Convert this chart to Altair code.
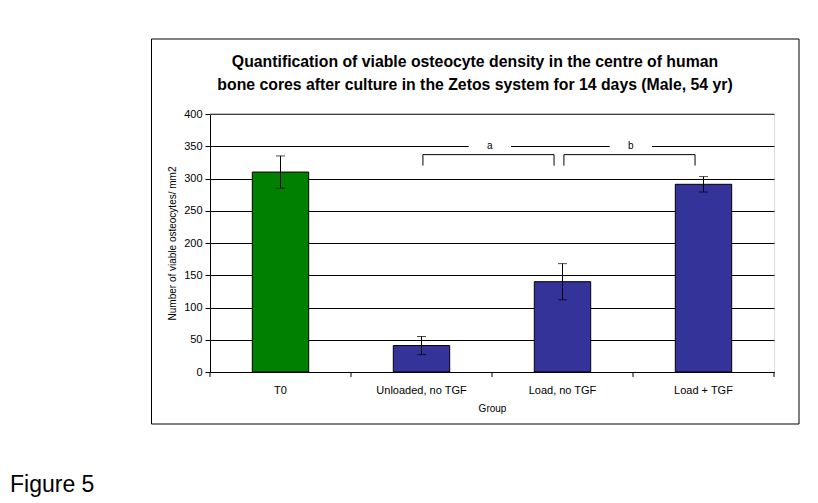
import altair as alt
import pandas as pd

# ---- data ----
groups = ["T0", "Unloaded, no TGF", "Load, no TGF", "Load + TGF"]
means = [310, 41, 140, 291]
errors = [25, 14, 28, 12]
bar_colors = ["#008000", "#333399", "#333399", "#333399"]

bracket_labels = ["a", "b"]
bracket_from = ["Unloaded, no TGF", "Load, no TGF"]
bracket_to = ["Load, no TGF", "Load + TGF"]
bracket_top = 337
bracket_bottom = 320
bracket_label_y = 350

y_ticks = [0, 50, 100, 150, 200, 250, 300, 350, 400]

title_lines = [
    "Quantification of viable osteocyte density in the centre of human",
    "bone cores after culture in the Zetos system for 14 days (Male, 54 yr)",
]
y_title = "Number of viable osteocytes/ mm2"
x_title = "Group"
figure_label = "Figure 5"

FONT = "Liberation Sans"
W, H = 564, 258

df = pd.DataFrame({
    "group": groups,
    "mean": means,
    "lo": [m - e for m, e in zip(means, errors)],
    "hi": [m + e for m, e in zip(means, errors)],
    "color": bar_colors,
})

# bracket geometry in category-index units (band centres at i + 0.5)
idx = {g: i for i, g in enumerate(groups)}
br_rows = []
for lab, a, b in zip(bracket_labels, bracket_from, bracket_to):
    x1 = idx[a] + 0.5 + 0.01
    x2 = idx[b] + 0.5 - 0.06
    br_rows.append({"label": lab, "x1": x1, "x2": x2, "xm": (x1 + x2) / 2 + 0.01,
                    "top": bracket_top, "bottom": bracket_bottom, "ly": bracket_label_y})
br = pd.DataFrame(br_rows)
# category boundaries for the x-axis tick marks
bounds = pd.DataFrame({"b": list(range(len(groups) + 1))})

yscale = alt.Scale(domain=[0, 400], nice=False)
yaxis = alt.Axis(values=y_ticks, labelFont=FONT, labelFontSize=11,
                 labelColor="black", titleFont=FONT, titleFontSize=10,
                 titleFontWeight="normal", titleColor="black", domainColor="black",
                 tickColor="black", tickSize=5, labelPadding=3, titlePadding=6,
                 grid=True, gridColor="black")

xcat = alt.X(
    "group:N", sort=groups, title=x_title,
    scale=alt.Scale(paddingInner=0.6, paddingOuter=0.3),
    axis=alt.Axis(ticks=False, labelAngle=0, labelFont=FONT, labelFontSize=11,
                  labelColor="black", titleFont=FONT, titleFontSize=10,
                  titleFontWeight="normal", titleColor="black", domainColor="black",
                  labelPadding=12, titlePadding=8, grid=False),
)

base = alt.Chart(df)
bars = base.mark_bar(stroke="black", strokeWidth=1).encode(
    x=xcat, y=alt.Y("mean:Q", title=y_title, scale=yscale, axis=yaxis),
    color=alt.Color("color:N", scale=None, legend=None),
)
err = base.mark_rule(color="black", strokeWidth=1).encode(
    x=alt.X("group:N", sort=groups),
    y=alt.Y("lo:Q", title=y_title, scale=yscale, axis=yaxis), y2="hi:Q")
cap_lo = base.mark_tick(color="black", thickness=1, size=9, orient="horizontal").encode(
    x=alt.X("group:N", sort=groups),
    y=alt.Y("lo:Q", title=y_title, scale=yscale, axis=yaxis))
cap_hi = base.mark_tick(color="black", thickness=1, size=9, orient="horizontal").encode(
    x=alt.X("group:N", sort=groups),
    y=alt.Y("hi:Q", title=y_title, scale=yscale, axis=yaxis))

cat_layer = alt.layer(bars, err, cap_lo, cap_hi)

# overlay with a quantitative x (category index units), no axis
xq = alt.Scale(domain=[0, len(groups)], nice=False, zero=False)
bb = alt.Chart(br)
gap = bb.mark_rule(color="white", strokeWidth=5).encode(
    x=alt.X("gx1:Q", scale=xq, axis=None), x2="gx2:Q",
    y=alt.Y("ly:Q", scale=yscale, axis=None),
).transform_calculate(gx1="datum.xm - 0.15", gx2="datum.xm + 0.15")
hline = bb.mark_rule(color="black", strokeWidth=1).encode(
    x=alt.X("x1:Q", scale=xq, axis=None), x2="x2:Q",
    y=alt.Y("top:Q", scale=yscale, axis=None),
)
vl = bb.mark_rule(color="black", strokeWidth=1).encode(
    x=alt.X("x1:Q", scale=xq, axis=None),
    y=alt.Y("top:Q", scale=yscale, axis=None),
    y2="bottom:Q",
)
vr = bb.mark_rule(color="black", strokeWidth=1).encode(
    x=alt.X("x2:Q", scale=xq, axis=None),
    y=alt.Y("top:Q", scale=yscale, axis=None),
    y2="bottom:Q",
)
labs = bb.mark_text(font=FONT, fontSize=10, color="black", baseline="middle").encode(
    x=alt.X("xm:Q", scale=xq, axis=None),
    y=alt.Y("ly:Q", scale=yscale, axis=None),
    text="label:N",
)
xticks = alt.Chart(bounds).mark_rule(color="black", strokeWidth=1).encode(
    x=alt.X("b:Q", scale=xq, axis=None),
    y=alt.value(H), y2=alt.value(H + 5),
)
top_edge = alt.Chart(bounds).transform_filter("datum.b == 0").mark_rule(
    color="#808080", strokeWidth=1).encode(
    x=alt.value(0), x2=alt.value(W), y=alt.value(0))
br_layer = alt.layer(gap, hline, vl, vr, labs, xticks, top_edge)

# decorations: chart-area border and figure label
deco_df = pd.DataFrame({"t": [figure_label]})
border = alt.Chart(deco_df).mark_rect(fill=None, stroke="black", strokeWidth=1).encode(
    x=alt.value(-58.5), x2=alt.value(589), y=alt.value(-75), y2=alt.value(310))
fig_lab = alt.Chart(deco_df).mark_text(font=FONT, fontSize=23, align="left",
                                       baseline="alphabetic", color="black").encode(
    x=alt.value(-200), y=alt.value(378), text="t:N")

chart = alt.layer(cat_layer, br_layer, border, fig_lab).resolve_scale(
    x="independent", y="shared"
).resolve_axis(
    x="independent", y="independent"
).properties(
    width=W, height=H,
    title=alt.Title(title_lines, font=FONT, fontSize=15.8, fontWeight="bold",
                    color="black", anchor="middle", dx=-17, offset=-55, lineHeight=23),
    padding={"left": 210, "top": 114, "right": 44, "bottom": 131},
    autosize=alt.AutoSizeParams(type="none"),
).configure_view(stroke="#808080", strokeWidth=1).configure(background="white")

chart.save("out.html", embed_options={"renderer": "svg", "actions": False})
